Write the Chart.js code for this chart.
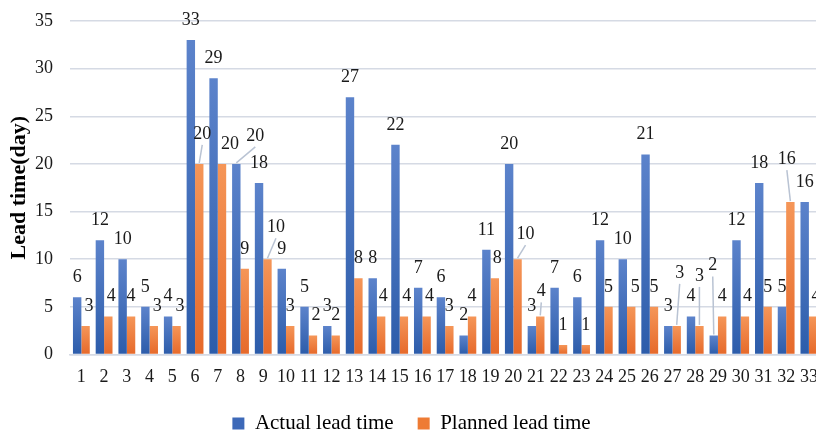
<!DOCTYPE html>
<html>
<head>
<meta charset="utf-8">
<script src="https://cdn.jsdelivr.net/npm/chart.js@4"></script>
<style>
  html, body { margin: 0; padding: 0; background: #fff; overflow: hidden; }
  #frame { width: 816px; height: 431px; overflow: hidden; position: relative; }
  #box { position: absolute; left: 0; top: 0; width: 830px; height: 444px; }
</style>
</head>
<body>
<div id="frame"><div id="box"><canvas id="chart"></canvas></div></div>
<script>
// Order numbers 1..33
const categories = ['1','2','3','4','5','6','7','8','9','10','11','12','13','14','15','16','17',
  '18','19','20','21','22','23','24','25','26','27','28','29','30','31','32','33'];

// Lead times in days
const actualLeadTime  = [6,12,10,5,4,33,29,20,18,9,5,3,27,8,22,7,6,2,11,20,3,7,6,12,10,21,3,4,2,12,18,5,16];
const plannedLeadTime = [3,4,4,3,3,20,20,9,10,3,2,2,8,4,4,4,3,4,8,10,4,1,1,5,5,5,3,3,4,4,5,16,4];

// Value axis ticks
const yTickValues = [0,5,10,15,20,25,30,35];

const seriesNames = ['Actual lead time', 'Planned lead time'];

// Nudges for individual value labels: "dataset:index" -> [dx, dy, leader line]
const labelNudge = {
  '1:0': [3.5, 0], '1:1': [3, 0], '1:3': [3.5, 0], '1:4': [3.5, 0],
  '1:5': [3, -10, true], '1:6': [8, 0], '0:7': [19, -8, true], '1:8': [8.5, -12, true],
  '1:10': [3, 0], '1:13': [2, 0], '1:14': [3, 0], '1:15': [3, 0], '1:18': [2.5, 0],
  '1:19': [8, -5, true], '1:20': [1, -5, true], '1:24': [4, 0],
  '1:26': [3, -33, true], '1:27': [0, -30, true], '0:28': [-1, -50, true],
  '1:29': [2.5, 0], '1:31': [-3.5, -23, true], '1:32': [3, 0]
};

const SERIF = "'Liberation Serif', 'Times New Roman', serif";

// Vertical gradient running over each bar's own height
function barFill(topColor, bottomColor) {
  return (ctx) => {
    const chart = ctx.chart;
    const ys = chart.scales && chart.scales.y;
    if (ctx.type !== 'data' || !ys || !chart.chartArea || !ctx.parsed) return bottomColor;
    const yTop = ys.getPixelForValue(ctx.parsed.y);
    const yBase = ys.getPixelForValue(0);
    if (!isFinite(yTop) || !isFinite(yBase) || Math.abs(yBase - yTop) < 1) return bottomColor;
    const g = chart.ctx.createLinearGradient(0, yTop, 0, yBase);
    g.addColorStop(0, topColor);
    g.addColorStop(1, bottomColor);
    return g;
  };
}

// Value labels above the bars, with leader lines for moved labels
const valueLabels = {
  id: 'valueLabels',
  afterDatasetsDraw(chart) {
    const ctx = chart.ctx;
    ctx.save();
    ctx.font = '18px ' + SERIF;
    ctx.textAlign = 'center';
    ctx.textBaseline = 'alphabetic';
    chart.data.datasets.forEach((ds, di) => {
      const meta = chart.getDatasetMeta(di);
      meta.data.forEach((bar, i) => {
        const nudge = labelNudge[di + ':' + i] || [0, 0, false];
        const tx = bar.x + nudge[0];
        const ty = bar.y - 15 + nudge[1];
        if (nudge[2]) {
          ctx.strokeStyle = '#b9c3d3';
          ctx.lineWidth = 1.5;
          ctx.beginPath();
          ctx.moveTo(tx, ty + 6);
          ctx.lineTo(bar.x, bar.y - 1);
          ctx.stroke();
        }
        ctx.fillStyle = '#1a1a1a';
        ctx.fillText(String(ds.data[i]), tx, ty);
      });
    });
    ctx.restore();
  }
};

new Chart(document.getElementById('chart'), {
  type: 'bar',
  data: {
    labels: categories,
    datasets: [
      {
        label: seriesNames[0],
        data: actualLeadTime,
        backgroundColor: barFill('#5c83cb', '#2c5caa'),
        categoryPercentage: 0.74,
        barPercentage: 1.0
      },
      {
        label: seriesNames[1],
        data: plannedLeadTime,
        backgroundColor: barFill('#f59658', '#e6692a'),
        categoryPercentage: 0.74,
        barPercentage: 1.0
      }
    ]
  },
  options: {
    responsive: true,
    maintainAspectRatio: false,
    animation: false,
    devicePixelRatio: 1,
    layout: { padding: { top: 21, right: 7, left: 0, bottom: 0 } },
    plugins: {
      legend: {
        position: 'bottom',
        labels: {
          font: { family: SERIF, size: 21 },
          color: '#1a1a1a',
          boxWidth: 12,
          boxHeight: 12,
          padding: 24,
          generateLabels(chart) {
            const cols = ['#3d69b8', '#ee7b34'];
            return chart.data.datasets.map((ds, i) => ({
              text: ds.label,
              fillStyle: cols[i],
              strokeStyle: cols[i],
              lineWidth: 0,
              hidden: false,
              datasetIndex: i
            }));
          }
        }
      },
      tooltip: { enabled: false }
    },
    scales: {
      x: {
        grid: { display: false, drawTicks: false },
        border: { display: true, color: '#d5dae4', width: 1.5 },
        ticks: {
          font: { family: SERIF, size: 18 },
          color: '#1a1a1a',
          padding: 12,
          maxRotation: 0,
          autoSkip: false
        },
        afterFit(scale) { scale.height = 34.5; }
      },
      y: {
        min: 0,
        max: 35,
        afterBuildTicks(scale) { scale.ticks = yTickValues.map(v => ({ value: v })); },
        grid: { color: '#d5dae4', lineWidth: 1.5, drawTicks: false },
        border: { display: false },
        ticks: {
          font: { family: SERIF, size: 18 },
          color: '#1a1a1a',
          padding: 17
        },
        title: {
          display: true,
          text: 'Lead time(day)',
          font: { family: SERIF, size: 22, weight: 'bold' },
          color: '#000',
          padding: { top: 6, bottom: 0 }
        },
        afterFit(scale) {
          scale.width = 70;
          scale.paddingTop = 0;
          scale.paddingBottom = 0;
        }
      }
    }
  },
  plugins: [valueLabels]
});
</script>
</body>
</html>
